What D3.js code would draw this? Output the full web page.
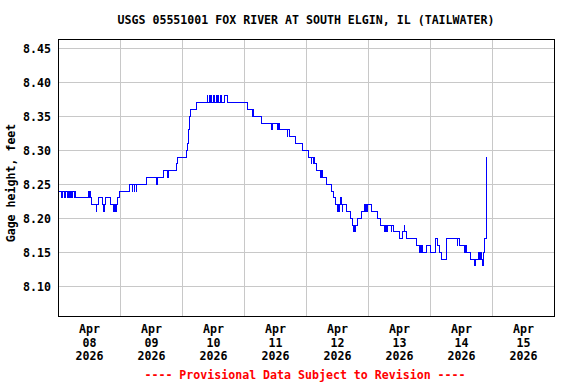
<!DOCTYPE html>
<html><head><meta charset="utf-8">
<script src="https://cdn.jsdelivr.net/npm/d3@7"></script>
<style>
body{margin:0;background:#fff}
svg{display:block}
text{font-family:"DejaVu Sans Mono","Liberation Mono",monospace;font-weight:bold;font-size:11.6px}
</style>
</head><body><svg id="c" width="576" height="384"></svg>
<script>
const title = "USGS 05551001 FOX RIVER AT SOUTH ELGIN, IL (TAILWATER)";
const yLabel = "Gage height, feet";
const footer = "---- Provisional Data Subject to Revision ----";
const yTicks = [8.10, 8.15, 8.20, 8.25, 8.30, 8.35, 8.40, 8.45];
const xTickDates = ["2026-04-08","2026-04-09","2026-04-10","2026-04-11","2026-04-12","2026-04-13","2026-04-14","2026-04-15"];
const xDomain = ["2026-04-07 12:00","2026-04-15 12:00"];
const yDomain = [8.0563, 8.4637];

// readings (April day + time) where the gage height changes
const readingTimes = [
"07 12:00","07 13:30","07 13:45","07 14:30","07 14:45","07 15:30","07 15:45","07 16:00","07 16:15","07 16:30",
"07 16:45","07 17:15","07 17:30","07 18:15","07 18:30","07 18:45","07 23:45","08 00:15","08 00:30","08 00:45",
"08 01:00","08 02:45","08 03:00","08 03:45","08 05:15","08 05:45","08 06:00","08 06:15","08 08:15","08 09:30",
"08 09:45","08 10:15","08 10:30","08 11:00","08 11:45","08 15:45","08 16:45","08 17:00","08 17:30","08 17:45",
"08 18:15","08 18:30","08 22:15","09 02:15","09 02:30","09 04:45","09 06:30","09 06:45","09 09:45","09 10:15",
"09 13:45","09 14:15","09 14:30","09 14:45","09 15:00","09 15:15","09 17:45","09 21:45","09 22:00","09 22:45",
"09 23:00","09 23:15","09 23:30","10 00:00","10 00:15","10 00:30","10 00:45","10 01:15","10 01:30","10 01:45",
"10 02:00","10 03:00","10 03:15","10 04:30","10 05:45","10 13:30","10 15:15","10 15:30","10 15:45","10 18:45",
"10 22:45","10 23:00","11 01:00","11 01:15","11 01:45","11 04:45","11 05:00","11 05:30","11 07:45","11 10:30",
"11 13:00","11 14:00","11 14:15","11 14:45","11 15:00","11 15:15","11 16:00","11 17:45","11 18:00","11 18:30",
"11 20:00","11 21:45","11 22:30","11 23:15","12 00:00","12 00:15","12 00:45","12 01:00","12 01:30","12 01:45",
"12 02:00","12 02:15","12 03:30","12 05:15","12 06:00","12 06:30","12 06:45","12 07:00","12 07:15","12 08:00",
"12 09:30","12 10:45","12 11:00","12 11:15","12 11:30","12 11:45","12 13:30","12 15:45","12 17:00","12 18:15",
"12 18:30","12 18:45","12 19:00","12 19:15","12 19:30","12 21:00","12 21:15","12 21:45","13 00:15","13 01:30",
"13 02:00","13 02:15","13 03:00","13 06:45","13 08:00","13 08:15","13 08:30","13 08:45","13 09:00","13 10:45",
"13 12:15","13 14:15","13 15:00","13 15:45","13 16:30","13 18:15","13 22:30","13 22:45","13 23:30","14 01:15",
"14 01:45","14 02:00","14 03:45","14 05:15","14 05:30","14 06:45","14 07:00","14 07:15","14 07:30","14 07:45",
"14 08:00","14 08:15","14 08:45","14 09:15","14 09:45"
];
const gageHeights = [
8.24,8.23,8.24,8.23,8.24,8.23,8.24,8.23,8.24,8.23,
8.24,8.23,8.24,8.23,8.24,8.23,8.24,8.23,8.24,8.23,
8.22,8.21,8.22,8.23,8.22,8.21,8.22,8.23,8.22,8.21,
8.22,8.21,8.22,8.23,8.24,8.25,8.24,8.25,8.24,8.25,
8.24,8.25,8.26,8.25,8.26,8.27,8.26,8.27,8.28,8.29,
8.30,8.31,8.33,8.34,8.35,8.36,8.37,8.38,8.37,8.38,
8.37,8.38,8.37,8.38,8.37,8.38,8.37,8.38,8.37,8.38,
8.37,8.38,8.37,8.38,8.37,8.36,8.35,8.36,8.35,8.34,
8.33,8.34,8.33,8.34,8.33,8.32,8.33,8.32,8.31,8.30,
8.29,8.28,8.29,8.28,8.29,8.28,8.27,8.26,8.27,8.26,
8.25,8.24,8.23,8.22,8.21,8.22,8.21,8.22,8.23,8.22,
8.21,8.22,8.21,8.20,8.19,8.18,8.19,8.18,8.19,8.20,
8.21,8.22,8.21,8.22,8.21,8.22,8.21,8.20,8.19,8.18,
8.19,8.18,8.19,8.18,8.19,8.18,8.19,8.18,8.17,8.18,
8.19,8.18,8.17,8.16,8.15,8.16,8.15,8.16,8.15,8.16,
8.15,8.17,8.16,8.15,8.14,8.17,8.16,8.17,8.16,8.15,
8.16,8.15,8.14,8.13,8.14,8.15,8.14,8.15,8.14,8.15,
8.14,8.13,8.15,8.17,8.29
];

const parseFull = d3.timeParse("%Y-%m-%d %H:%M");
const parseDay = d3.timeParse("%Y-%m-%d");
const data = readingTimes.map((t, i) => ({ t: parseFull("2026-04-" + t), v: gageHeights[i] }));

const svg = d3.select("#c");
const L = 58, R = 554, T = 39, B = 316;
const x = d3.scaleTime().domain(xDomain.map(parseFull)).range([L, R]);
const y = d3.scaleLinear().domain(yDomain).range([B, T]);

// horizontal grid
svg.append("g").attr("transform", `translate(${L},0)`)
  .call(d3.axisLeft(y).tickValues(yTicks).tickSize(-(R - L)).tickFormat(""))
  .call(g => g.select(".domain").remove())
  .call(g => g.selectAll("line").attr("stroke", "#c8c8c8").attr("stroke-width", 1).attr("shape-rendering", "crispEdges"));

// vertical grid at noon
const noonTicks = xTickDates.slice(0, -1).map(d => d3.timeHour.offset(parseDay(d), 12));
svg.append("g").attr("transform", `translate(0,${B})`)
  .call(d3.axisBottom(x).tickValues(noonTicks).tickSize(-(B - T)).tickFormat(""))
  .call(g => g.select(".domain").remove())
  .call(g => g.selectAll("line").attr("stroke", "#c8c8c8").attr("stroke-width", 1).attr("shape-rendering", "crispEdges"));

// data line
const line = d3.line().x(d => x(d.t)).y(d => y(d.v)).curve(d3.curveStepAfter);
svg.append("path").datum(data).attr("d", line)
  .attr("fill", "none").attr("stroke", "#0000ff").attr("stroke-width", 1).attr("shape-rendering", "crispEdges");

// frame
svg.append("rect").attr("x", L + 0.5).attr("y", T + 0.5).attr("width", R - L).attr("height", B - T)
  .attr("fill", "none").attr("stroke", "#000").attr("stroke-width", 1).attr("shape-rendering", "crispEdges");

// y axis labels
svg.append("g").attr("transform", `translate(${L},0)`)
  .call(d3.axisLeft(y).tickValues(yTicks).tickSize(0).tickPadding(7).tickFormat(d3.format(".2f")))
  .call(g => g.select(".domain").remove())
  .call(g => g.selectAll("text").attr("fill", "#000").attr("font-size", null).attr("font-family", null).attr("dy", "0.36em"));

// x axis labels (three lines)
const fmtMon = d3.timeFormat("%b"), fmtDay = d3.timeFormat("%d"), fmtYr = d3.timeFormat("%Y");
const xg = svg.append("g").attr("transform", `translate(0,${B})`)
  .call(d3.axisBottom(x).tickValues(xTickDates.map(parseDay)).tickSize(0).tickFormat(""))
  .call(g => g.select(".domain").remove());
xg.selectAll(".tick").each(function(d) {
  const t = d3.select(this).select("text").attr("fill", "#000").attr("font-size", null).attr("font-family", null)
    .attr("y", 0).attr("dy", null);
  [[fmtMon(d), 17.3], [fmtDay(d), 30.7], [fmtYr(d), 44]].forEach(([s, yy]) => {
    t.append("tspan").attr("x", 0).attr("y", yy).text(s);
  });
});

// title, axis title, footer
svg.append("text").attr("x", (L + R) / 2).attr("y", 24).attr("text-anchor", "middle").text(title);
svg.append("text").attr("transform", "translate(15,183) rotate(-90)").attr("text-anchor", "middle").text(yLabel);
svg.append("text").attr("x", 305).attr("y", 379).attr("text-anchor", "middle").attr("fill", "#ff0000").text(footer);
</script>
</body></html>
